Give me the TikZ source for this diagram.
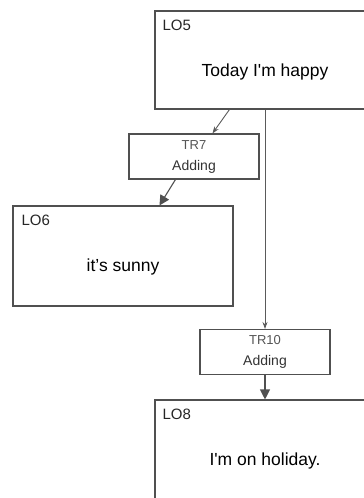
\documentclass[tikz,border=0pt]{standalone}
\usepackage{fontspec}
% plain Unicode input: keep ' as a straight apostrophe
\setmainfont{Liberation Sans}[Ligatures=TeXOff]
\usetikzlibrary{arrows.meta,calc}
\definecolor{boxline}{HTML}{505050}
\definecolor{wire}{HTML}{5A5A5A}
\definecolor{tagtext}{HTML}{555555}
\begin{document}
\begin{tikzpicture}[x=1pt,y=-1pt,
  lobox/.style={draw=boxline,line width=1.1pt,fill=white,rectangle,inner sep=0pt,
    minimum width=220pt,minimum height=#1},
  lobox/.default=98pt,
  trbox/.style={draw=boxline,line width=1.1pt,fill=white,rectangle,inner sep=0pt,
    minimum width=130pt,minimum height=45pt},
  lotag/.style={anchor=base west,inner sep=0pt,font=\fontsize{15}{18}\selectfont,text=black!85},
  lotext/.style={anchor=base,inner sep=0pt,font=\fontsize{17.5}{20}\selectfont,text=black},
  trtag/.style={anchor=base,inner sep=0pt,font=\fontsize{13}{15}\selectfont,text=tagtext},
  trtext/.style={anchor=base,inner sep=0pt,font=\fontsize{14}{16}\selectfont,text=black!80},
  thinarrow/.style={draw=wire,line width=0.9pt,-{Stealth[length=7pt,width=5pt]}},
  boldarrow/.style={draw=boxline,line width=1.1pt,-{Triangle[length=10pt,width=10pt]}}
]
\useasboundingbox (0,0) rectangle (364,498);
\begin{scope}
\clip (0,0) rectangle (364,498);

% boxes
\node[lobox] (lo5) at (265,60) {};
\node[trbox] (tr7) at (194,156.5) {};
\node[lobox=100pt] (lo6) at (123,256) {};
\node[trbox] (tr10) at (265,352) {};
\node[lobox=110pt] (lo8) at (265,455) {};

% box captions
\node[lotag] (lo5tag) at ($(lo5.north west)+(8,20)$) {LO5};
\node[lotext] (lo5txt) at ($(lo5.north)+(0,66)$) {Today I'm happy};
\node[lotag] (lo6tag) at ($(lo6.north west)+(9,20)$) {LO6};
\node[lotext] (lo6txt) at ($(lo6.north)+(0,66)$) {it’s sunny};
\node[lotag] (lo8tag) at ($(lo8.north west)+(8,20)$) {LO8};
\node[lotext] (lo8txt) at ($(lo8.north)+(0,66)$) {I'm on holiday.};

\node[trtag] (tr7tag) at ($(tr7.north)+(0,16)$) {TR7};
\node[trtext] (tr7txt) at ($(tr7.north)+(0,37)$) {Adding};
\node[trtag] (tr10tag) at ($(tr10.north)+(0,16)$) {TR10};
\node[trtext] (tr10txt) at ($(tr10.north)+(0,37)$) {Adding};

% connectors
\draw[thinarrow] ([xshift=75pt]lo5.south west) -- ([xshift=84pt]tr7.north west);
\draw[boldarrow] ([xshift=47pt]tr7.south west) -- ([xshift=147pt]lo6.north west);
\draw[thinarrow] (lo5.south -| tr10.north) -- (tr10.north);
\draw[boldarrow] (tr10.south) -- (tr10.south |- lo8.north);
\end{scope}
\end{tikzpicture}
\end{document}
